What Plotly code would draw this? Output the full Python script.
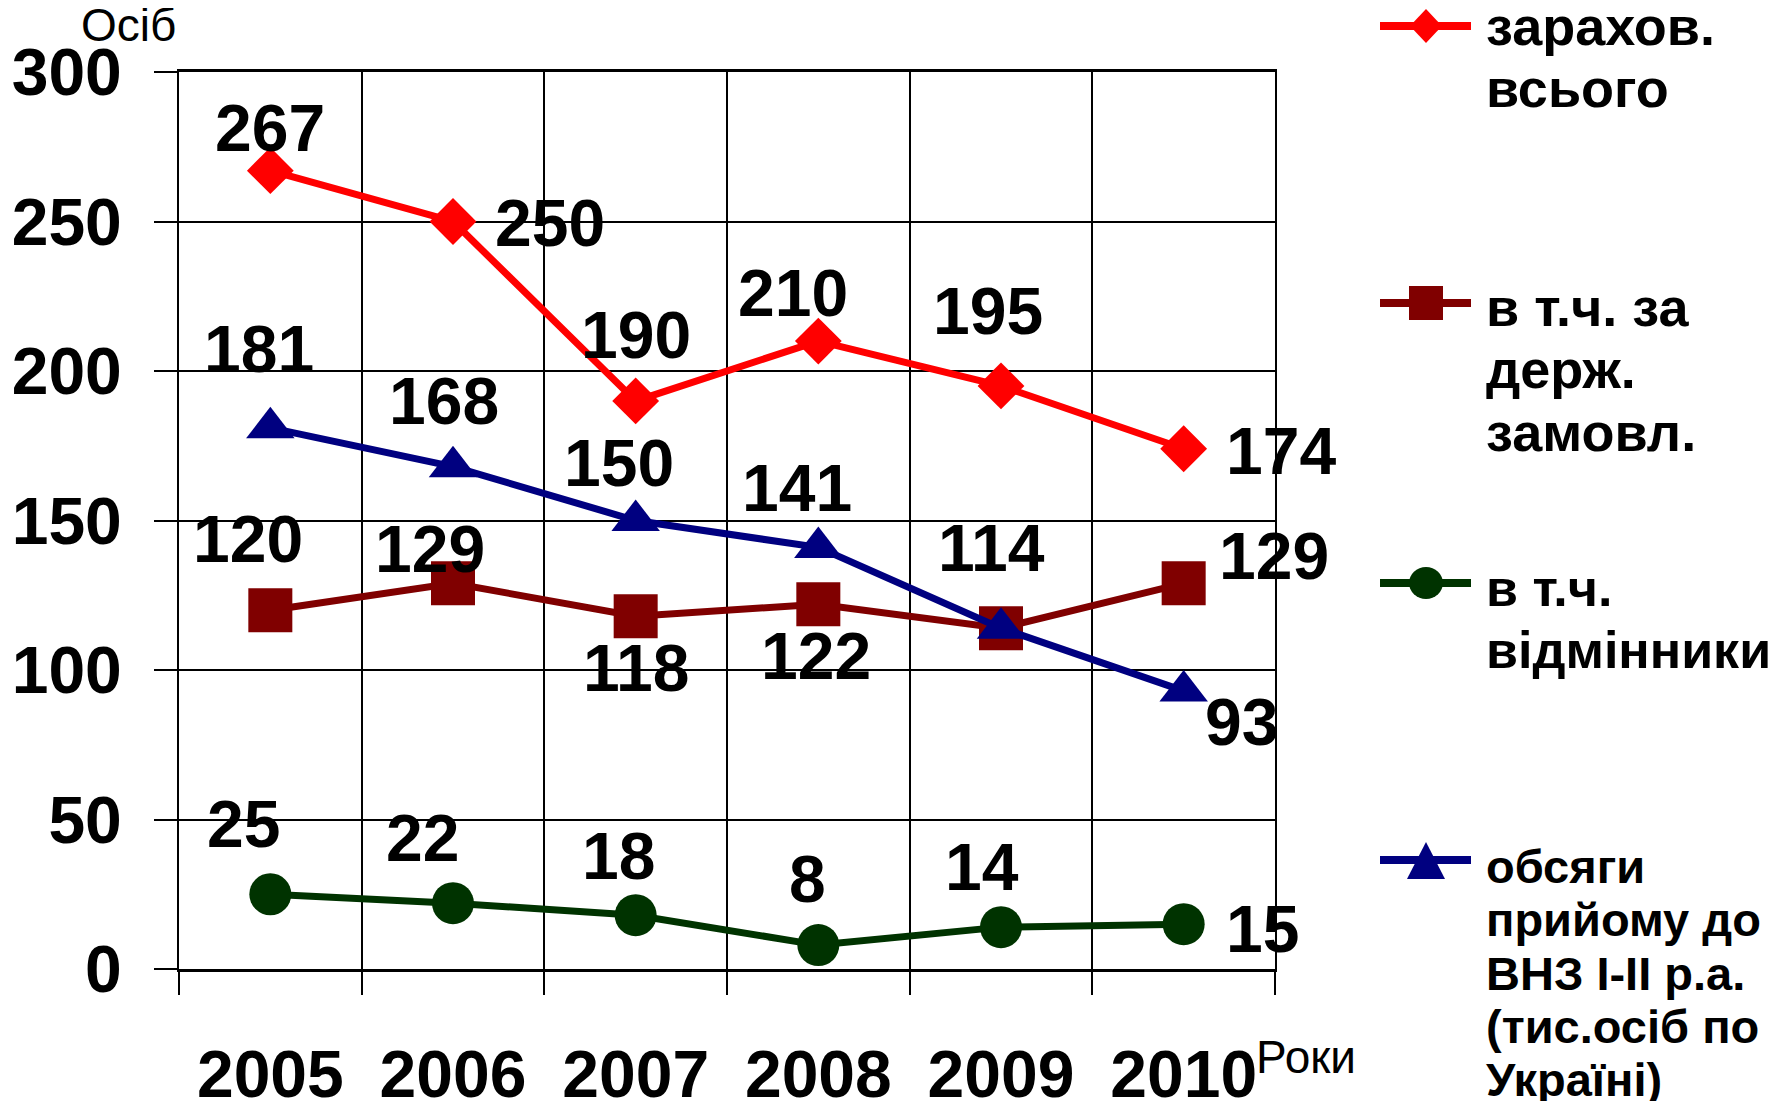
import plotly.graph_objects as go

# ---------------- data ----------------
years = ["2005", "2006", "2007", "2008", "2009", "2010"]
enrolled_total = [267, 250, 190, 210, 195, 174]        # зарахов. всього
state_order = [120, 129, 118, 122, 114, 129]           # в т.ч. за держ. замовл.
excellent = [25, 22, 18, 8, 14, 15]                    # в т.ч. відмінники
admission_ukraine = [181, 168, 150, 141, 114, 93]      # обсяги прийому до ВНЗ І-ІІ р.а.
y_tick_values = [0, 50, 100, 150, 200, 250, 300]

legend_lines_total = ["зарахов.", "всього"]
legend_lines_state = ["в т.ч. за", "держ.", "замовл."]
legend_lines_excellent = ["в т.ч.", "відмінники"]
legend_lines_admission = ["обсяги", "прийому до", "ВНЗ І-ІІ р.а.", "(тис.осіб по", "Україні)"]

y_axis_title = "Осіб"
x_axis_title = "Роки"

# ---------------- layout geometry (screen pixels) ----------------
W, H = 1788, 1101
OFF = 8                      # page body margin offset of the plot div
X0, X1 = 179, 1275           # plot area left/right (screen)
YT, YB = 72, 969             # plot area top (300) / bottom (0) (screen)
FONT = "Liberation Sans, Arial, sans-serif"
NUM_SIZE = 66


def px(x):
    return (x - OFF) / W


def py(y):
    return 1 - (y - OFF) / H


series = [
    dict(name="зарахов. всього", values=enrolled_total, color="#FF0000",
         symbol="diamond", size=36, ly=26, lines=legend_lines_total,
         text_first=26, base_font=48, span_font=54,
         offsets=[(0, 43), (97, -2), (0, 66), (-25, 48), (-13, 75), (97, -2)]),
    dict(name="в т.ч. за держ. замовл.", values=state_order, color="#800000",
         symbol="square", size=44, ly=303, lines=legend_lines_state,
         text_first=307, base_font=48, span_font=54,
         offsets=[(-22, 71), (-23, 34), (0, -52), (-2, -52), (-10, 80), (90, 27)]),
    dict(name="в т.ч. відмінники", values=excellent, color="#003300",
         symbol="circle", size=42, ly=583, lines=legend_lines_excellent,
         text_first=588, base_font=48, span_font=52,
         offsets=[(-27, 70), (-31, 65), (-17, 59), (-11, 66), (-19, 60), (79, -5)]),
    dict(name="обсяги прийому до ВНЗ І-ІІ р.а.", values=admission_ukraine, color="#000080",
         symbol="triangle-up", size=42, ly=860, lines=legend_lines_admission,
         text_first=866, base_font=41, span_font=47,
         offsets=[(-11, 79), (-9, 66), (-17, 58), (-21, 59), None, (58, -31)]),
]

fig = go.Figure()

# main data traces
for s in series:
    fig.add_trace(go.Scatter(
        x=years, y=s["values"], mode="lines+markers", name=s["name"],
        line=dict(color=s["color"], width=7),
        marker=dict(symbol=s["symbol"], size=s["size"], color=s["color"],
                    line=dict(width=0)),
        cliponaxis=False, showlegend=False, hoverinfo="skip",
    ))

annotations = []
shapes = []

# data labels (category axis -> use category index)
for s in series:
    for i, (v, off) in enumerate(zip(s["values"], s["offsets"])):
        if off is None:
            continue
        annotations.append(dict(
            x=i, y=v, xref="x", yref="y", text=str(v), showarrow=False,
            xshift=off[0], yshift=off[1], xanchor="center", yanchor="middle",
            font=dict(family=FONT, size=NUM_SIZE, color="black", weight="bold"),
        ))

# custom legend drawn in paper (= whole figure, margins are 0) coordinates
LX0, LX1, LCX = 1380, 1471, 1426
for s in series:
    ly = s["ly"]
    c = s["color"]
    shapes.append(dict(type="line", xref="paper", yref="paper",
                       x0=px(LX0), x1=px(LX1), y0=py(ly), y1=py(ly),
                       line=dict(color=c, width=8)))
    if s["symbol"] == "diamond":
        pts = [(LCX, ly - 17), (LCX + 16, ly), (LCX, ly + 17), (LCX - 16, ly)]
        path = "M" + " L".join(f"{px(a):.5f},{py(b):.5f}" for a, b in pts) + " Z"
        shapes.append(dict(type="path", xref="paper", yref="paper", path=path,
                           fillcolor=c, line=dict(width=0)))
    elif s["symbol"] == "square":
        shapes.append(dict(type="rect", xref="paper", yref="paper",
                           x0=px(LCX - 17), x1=px(LCX + 17), y0=py(ly + 17), y1=py(ly - 17),
                           fillcolor=c, line=dict(width=0)))
    elif s["symbol"] == "circle":
        shapes.append(dict(type="circle", xref="paper", yref="paper",
                           x0=px(LCX - 17), x1=px(LCX + 17), y0=py(ly + 16), y1=py(ly - 16),
                           fillcolor=c, line=dict(width=0)))
    else:
        pts = [(LCX, ly - 18), (LCX + 19, ly + 19), (LCX - 19, ly + 19)]
        path = "M" + " L".join(f"{px(a):.5f},{py(b):.5f}" for a, b in pts) + " Z"
        shapes.append(dict(type="path", xref="paper", yref="paper", path=path,
                           fillcolor=c, line=dict(width=0)))

    n = len(s["lines"])
    spacing = 1.3 * s["base_font"]
    center = s["text_first"] + spacing * (n - 1) / 2
    txt = "<br>".join(f"<span style='font-size:{s['span_font']}px'>{t}</span>"
                      for t in s["lines"])
    annotations.append(dict(
        x=px(1484), y=py(center), xref="paper", yref="paper", text=txt,
        showarrow=False, xanchor="left", yanchor="middle", align="left",
        font=dict(family=FONT, size=s["base_font"], color="black", weight="bold"),
    ))

# axis titles
annotations.append(dict(x=px(128), y=py(25), xref="paper", yref="paper",
                        text=y_axis_title, showarrow=False, xanchor="center", yanchor="middle",
                        font=dict(family=FONT, size=46, color="black")))
annotations.append(dict(x=px(1254), y=py(1057), xref="paper", yref="paper",
                        text=x_axis_title, showarrow=False, xanchor="left", yanchor="middle",
                        font=dict(family=FONT, size=46, color="black")))

fig.update_layout(
    width=W, height=H,
    margin=dict(l=0, r=0, t=0, b=0, autoexpand=False),
    paper_bgcolor="white", plot_bgcolor="white",
    showlegend=False,
    annotations=annotations,
    shapes=shapes,
    xaxis=dict(
        type="category", domain=[px(X0), px(X1)], range=[-0.5, 5.5],
        tickson="boundaries", showgrid=True, gridcolor="black", gridwidth=2,
        ticks="outside", ticklen=23, tickwidth=2, tickcolor="black",
        showline=True, linecolor="black", linewidth=3, mirror=True,
        tickfont=dict(family=FONT, size=NUM_SIZE, color="black", weight="bold"),
        ticklabelstandoff=46, fixedrange=True, automargin=False,
    ),
    yaxis=dict(
        domain=[py(YB), py(YT)], range=[0, 300],
        tickvals=y_tick_values, showgrid=True, gridcolor="black", gridwidth=2,
        ticks="outside", ticklen=23, tickwidth=2, tickcolor="black",
        showline=True, linecolor="black", linewidth=2, mirror=True, zeroline=False,
        tickfont=dict(family=FONT, size=NUM_SIZE, color="black", weight="bold"),
        ticklabelstandoff=19, fixedrange=True, automargin=False,
    ),
)

fig.write_html("out.html")
